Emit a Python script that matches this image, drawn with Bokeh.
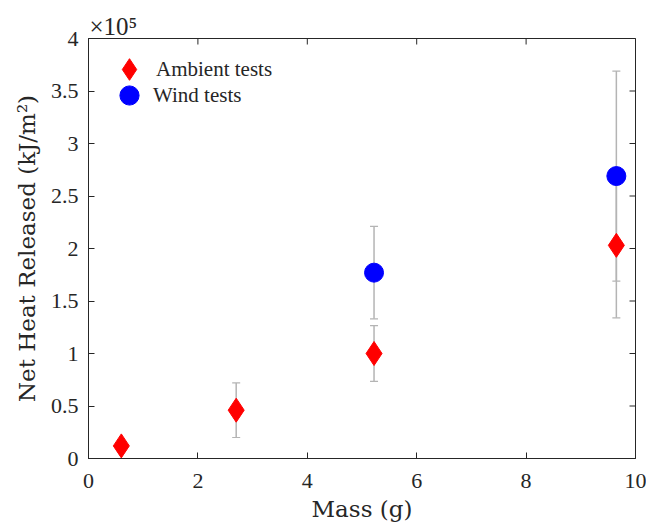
import math
from bokeh.plotting import figure
from bokeh.models import (ColumnDataSource, Whisker, TeeHead, Legend,
                          LegendItem, FixedTicker, Range1d)
from bokeh.embed import file_html
from bokeh.resources import INLINE

# ---- data (y values in units of 1e5 kJ/m^2) ----
ambient_mass = [0.6, 2.7, 5.22, 9.65]
ambient_heat = [0.12, 0.46, 1.0, 2.03]
ambient_err = [0.05, 0.26, 0.265, 0.69]
wind_mass = [5.22, 9.65]
wind_heat = [1.77, 2.69]
wind_err = [0.44, 1.0]
x_ticks = [0, 2, 4, 6, 8, 10]
y_ticks = [0, 0.5, 1, 1.5, 2, 2.5, 3, 3.5, 4]
y_tick_labels = ["0", "0.5", "1", "1.5", "2", "2.5", "3", "3.5", "4"]
y_exponent = "×10⁵"
x_min, x_max = 0, 10
y_min, y_max = 0, 4

AX = "#262626"
TICK_FONT = "Liberation Serif"
LABEL_FONT = "DejaVu Serif"

p = figure(width=646, height=524, output_backend="svg", toolbar_location=None,
           x_range=Range1d(x_min, x_max), y_range=Range1d(y_min, y_max),
           min_border_left=88, min_border_right=11, min_border_top=38, min_border_bottom=66,
           background_fill_color="white", border_fill_color="white")
p.grid.visible = False
p.outline_line_color = AX
p.outline_line_width = 1

# exponent shown above the y axis, as a left-aligned title
p.title.text = y_exponent
p.title.text_font = TICK_FONT
p.title.text_font_size = "25px"
p.title.text_font_style = "normal"
p.title.text_color = AX
p.title.align = "left"
p.title.offset = 1
p.title.standoff = -3

amb = ColumnDataSource(dict(x=ambient_mass, y=ambient_heat,
                            lo=[v - e for v, e in zip(ambient_heat, ambient_err)],
                            hi=[v + e for v, e in zip(ambient_heat, ambient_err)]))
wnd = ColumnDataSource(dict(x=wind_mass, y=wind_heat,
                            lo=[v - e for v, e in zip(wind_heat, wind_err)],
                            hi=[v + e for v, e in zip(wind_heat, wind_err)]))

EB = "#b4b4b4"
for src in (amb, wnd):
    w = Whisker(source=src, base="x", upper="hi", lower="lo", dimension="height",
                line_color=EB, line_width=1.5, level="underlay",
                upper_head=TeeHead(size=8, line_color=EB, line_width=1.2),
                lower_head=TeeHead(size=8, line_color=EB, line_width=1.2))
    p.add_layout(w)

r_amb = p.scatter("x", "y", source=amb, marker="diamond", size=24,
                  fill_color="#ff0000", line_color="#ff0000")
r_wnd = p.scatter("x", "y", source=wnd, marker="circle", size=19,
                  fill_color="#0000ff", line_color="#0000ff")

# inward ticks on the top and right edges of the box (clipped to the frame)
p.scatter(x=x_ticks, y=[y_max] * len(x_ticks), marker="dash", size=12, angle=math.pi / 2,
          line_color=AX, line_width=1)
p.scatter(x=[x_max] * len(y_ticks), y=y_ticks, marker="dash", size=12, angle=0,
          line_color=AX, line_width=1)

for ax in (p.xaxis[0], p.yaxis[0]):
    ax.axis_line_color = AX
    ax.major_tick_line_color = AX
    ax.minor_tick_line_color = None
    ax.major_tick_in = 6
    ax.major_tick_out = 0
    ax.major_label_text_font = TICK_FONT
    ax.major_label_text_font_size = "22px"
    ax.major_label_text_color = AX
    ax.axis_label_text_font = LABEL_FONT
    ax.axis_label_text_font_size = "23px"
    ax.axis_label_text_font_style = "normal"
    ax.axis_label_text_color = AX

p.xaxis.ticker = FixedTicker(ticks=x_ticks)
p.yaxis.ticker = FixedTicker(ticks=y_ticks)
p.yaxis.major_label_overrides = {t: s for t, s in zip(y_ticks, y_tick_labels)}
p.xaxis.axis_label = "Mass (g)"
p.yaxis.axis_label = "Net Heat Released (kJ/m²)"
p.xaxis.major_label_standoff = 15
p.yaxis.major_label_standoff = 10
p.xaxis.axis_label_standoff = 5
p.yaxis.axis_label_standoff = 8

# legends
leg1 = Legend(items=[LegendItem(label="Ambient tests", renderers=[r_amb])],
              location=(14, 362), glyph_width=54, glyph_height=54, label_standoff=0,
              padding=0, margin=0, border_line_color=None, background_fill_alpha=0,
              label_text_font=TICK_FONT, label_text_font_size="21px", label_text_color=AX)
leg2 = Legend(items=[LegendItem(label="Wind tests", renderers=[r_wnd])],
              location=(17, 339), glyph_width=48, glyph_height=48, label_standoff=0,
              padding=0, margin=0, border_line_color=None, background_fill_alpha=0,
              label_text_font=TICK_FONT, label_text_font_size="21px", label_text_color=AX)
p.add_layout(leg1, "center")
p.add_layout(leg2, "center")

open("out.html", "w").write(file_html(p, INLINE))
